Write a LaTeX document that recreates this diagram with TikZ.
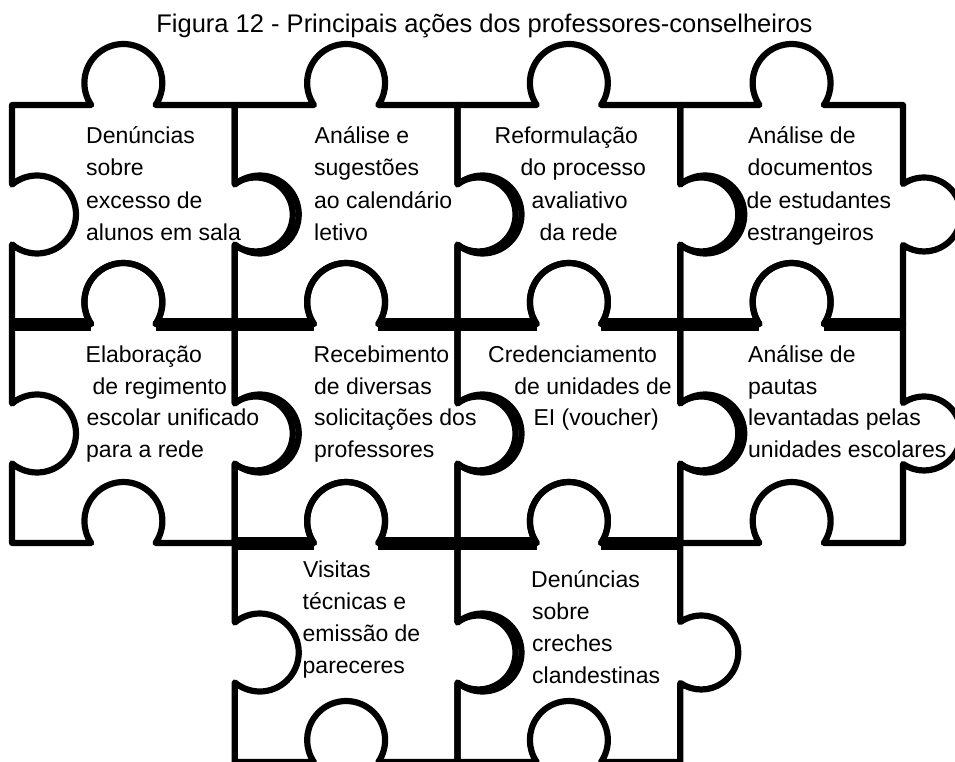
\documentclass[tikz,border=0pt]{standalone}
\usepackage{fontspec}
\setmainfont{Liberation Sans}
\newcommand\puzzlepiece[2]{%
  \draw[piece] (#1,#2) -- ({#1+111.375-32.2},#2)
    arc[start angle=145.66,end angle=394.34,radius=39]
    -- ({#1+222.75},#2) -- ({#1+222.75},{#2+109.5-30.46})
    arc[start angle=-124.58,end angle=124.58,radius=37]
    -- ({#1+222.75},{#2+219}) -- ({#1+111.375+32.2},{#2+219})
    arc[start angle=34.34,end angle=-214.34,radius=39]
    -- (#1,{#2+219}) -- (#1,{#2+109.5+29.93})
    arc[start angle=129.87,end angle=-129.87,radius=39] -- cycle;}
\newcommand\seamseg[2]{%
  \draw[seam] (#1,#2) -- ({#1+111.375-32.2},#2)
    ({#1+111.375+32.2},#2) -- ({#1+222.75},#2);}
\newcommand\tl[4]{\node[txt] (#1) at (#2,#3) {#4};}
\begin{document}
\begin{tikzpicture}[x=1pt,y=-1pt,
  piece/.style={draw=black,line width=6.2pt,line join=round},
  seam/.style={draw=black,line width=13pt,line cap=butt},
  txt/.style={anchor=base west,inner sep=0pt,font=\fontsize{23}{28}\selectfont},
  ttl/.style={anchor=base,inner sep=0pt,font=\fontsize{25.5}{30}\selectfont}]
\fill[white] (0,0) rectangle (955,762);
\useasboundingbox (0,0) rectangle (955,762);
\clip (0,0) rectangle (955,762);
\node[ttl] (title) at (484.5,33) {Figura 12 - Principais ações dos professores-conselheiros};
% row 1
\puzzlepiece{12}{105}
\puzzlepiece{234.75}{105}
\puzzlepiece{457.5}{105}
\puzzlepiece{680.25}{105}
% row 2
\puzzlepiece{12}{324}
\puzzlepiece{234.75}{324}
\puzzlepiece{457.5}{324}
\puzzlepiece{680.25}{324}
% row 3
\puzzlepiece{234.75}{543}
\puzzlepiece{457.5}{543}
% thick shared seams
\seamseg{12}{324}
\seamseg{234.75}{324}
\seamseg{457.5}{324}
\seamseg{680.25}{324}
\seamseg{234.75}{543}
\seamseg{457.5}{543}
% texts row 1
\tl{a1a}{86}{144}{Denúncias}
\tl{a1b}{86}{176}{sobre}
\tl{a1c}{86}{208}{excesso de}
\tl{a1d}{86}{240}{alunos em sala}
\tl{a2a}{314.5}{144}{Análise e}
\tl{a2b}{314}{176}{sugestões}
\tl{a2c}{314}{208}{ao calendário}
\tl{a2d}{314}{240}{letivo}
\tl{a3a}{494.5}{144}{Reformulação}
\tl{a3b}{520.5}{176}{do processo}
\tl{a3c}{531.5}{208}{avaliativo}
\tl{a3d}{539.5}{240}{da rede}
\tl{a4a}{748}{144}{Análise de}
\tl{a4b}{747.5}{176}{documentos}
\tl{a4c}{746.5}{208}{de estudantes}
\tl{a4d}{747}{240}{estrangeiros}
% texts row 2
\tl{b1a}{85.5}{362}{Elaboração}
\tl{b1b}{92.5}{394}{de regimento}
\tl{b1c}{86.5}{425.5}{escolar unificado}
\tl{b1d}{86}{457}{para a rede}
\tl{b2a}{313.5}{362}{Recebimento}
\tl{b2b}{314}{394}{de diversas}
\tl{b2c}{314}{425.5}{solicitações dos}
\tl{b2d}{314}{457}{professores}
\tl{b3a}{488}{362}{Credenciamento}
\tl{b3b}{514.2}{394}{de unidades de}
\tl{b3c}{533.3}{425.5}{EI (voucher)}
\tl{b4a}{748}{362}{Análise de}
\tl{b4b}{748}{394}{pautas}
\tl{b4c}{748}{425.5}{levantadas pelas}
\tl{b4d}{748}{457}{unidades escolares}
% texts row 3
\tl{c2a}{303}{577}{Visitas}
\tl{c2b}{302.5}{609}{técnicas e}
\tl{c2c}{302.5}{641}{emissão de}
\tl{c2d}{302.5}{673}{pareceres}
\tl{c3a}{531}{587}{Denúncias}
\tl{c3b}{532}{619}{sobre}
\tl{c3c}{532}{651}{creches}
\tl{c3d}{532}{683}{clandestinas}
\end{tikzpicture}
\end{document}
